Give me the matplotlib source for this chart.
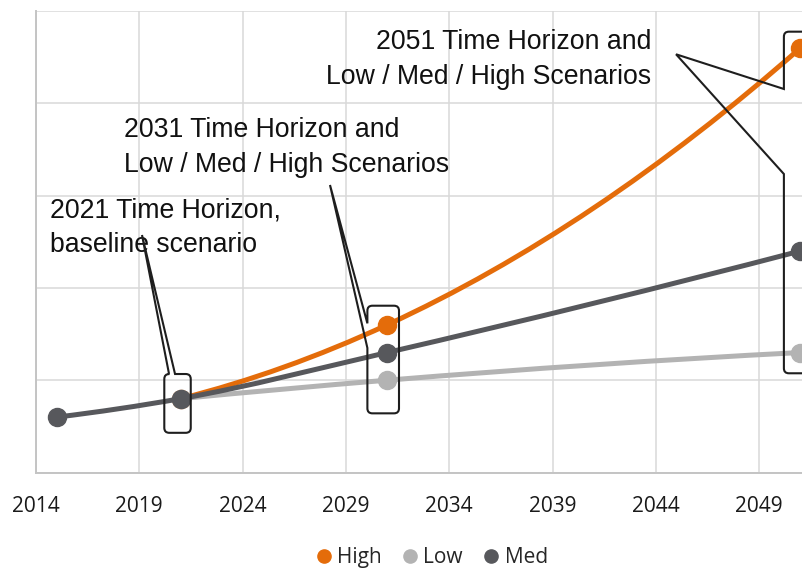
import numpy as np
import matplotlib.pyplot as plt
from matplotlib.path import Path
from matplotlib.patches import PathPatch
from matplotlib.lines import Line2D
from matplotlib.transforms import IdentityTransform

# scenario data: horizon years and index values (one grid step = 1 unit)
med_years = [2015, 2021, 2031, 2051]
med = [0.6, 0.8, 1.3, 2.4]
scen_years = [2021, 2031, 2051]
high = [0.8, 1.6, 4.6]
low = [0.8, 1.0, 1.3]
xticks = [2014, 2019, 2024, 2029, 2034, 2039, 2044, 2049]

series = [("High", scen_years, high, "#E46C0A"),
          ("Low", scen_years, low, "#B3B3B3"),
          ("Med", med_years, med, "#57585C")]

W, H = 803, 568
fig = plt.figure(figsize=(W / 100, H / 100), dpi=100)
ax = fig.add_axes([36 / W, (H - 472.5) / H, 40 * 20.66 / W, 461.5 / H])
ax.set_xlim(2014, 2054)
ax.set_ylim(0, 5)

ax.set_xticks(xticks)
ax.set_yticks(range(0, 6))
ax.set_yticklabels([])
ax.grid(True, color="#D9D9D9", lw=1.1)
ax.set_axisbelow(True)
for s in ["top", "right"]:
    ax.spines[s].set_visible(False)
for s in ["left", "bottom"]:
    ax.spines[s].set_color("#C4C4C4")
    ax.spines[s].set_linewidth(1.4)
ax.tick_params(axis="both", length=0)
ax.tick_params(axis="x", pad=17, labelsize=15, labelcolor="#1A1A1A")
for t in ax.get_xticklabels():
    t.set_fontfamily("Open Sans")


def smooth_path(xs, ys):
    # smoothed line: cubic hermite segments, slopes from 3-point parabolas
    x = np.asarray(xs, float)
    y = np.asarray(ys, float)
    h = np.diff(x)
    s = np.diff(y) / h
    m = np.zeros(len(x))
    if len(x) == 2:
        m[:] = s[0]
    else:
        m[1:-1] = (h[1:] * s[:-1] + h[:-1] * s[1:]) / (h[:-1] + h[1:])
        m[0] = s[0] - (s[1] - s[0]) * h[0] / (h[0] + h[1])
        m[-1] = s[-1] + (s[-1] - s[-2]) * h[-1] / (h[-1] + h[-2])
    verts = [(x[0], y[0])]
    codes = [Path.MOVETO]
    for i in range(len(x) - 1):
        d = h[i] / 3.0
        verts += [(x[i] + d, y[i] + d * m[i]),
                  (x[i + 1] - d, y[i + 1] - d * m[i + 1]),
                  (x[i + 1], y[i + 1])]
        codes += [Path.CURVE4] * 3
    return Path(verts, codes)


z = 3
for name, xs, vals, col in series:
    ax.add_patch(PathPatch(smooth_path(xs, vals), fc="none", ec=col,
                           lw=3.6, capstyle="round", zorder=z))
    ax.plot(xs, vals, "o", ms=13, color=col, mec=col, zorder=z + 0.5,
            clip_on=False)
    z += 1


def callout(box, side, base, tip, r=5):
    # rounded box with a wedge pointer, built in pixel space
    td = ax.transData
    x0, y0 = td.transform((box[0], box[2]))
    x1, y1 = td.transform((box[1], box[3]))
    L, R = min(x0, x1), max(x0, x1)
    B, T = min(y0, y1), max(y0, y1)
    tx, ty = td.transform(tip)
    verts = [(L, T - r)]
    codes = [Path.MOVETO]

    def corner(c, e):
        verts.extend([c, e])
        codes.extend([Path.CURVE3, Path.CURVE3])

    def line(pt):
        verts.append(pt)
        codes.append(Path.LINETO)

    corner((L, T), (L + r, T))
    if side == "top":
        a = td.transform((base[0], box[3]))[0]
        b = td.transform((base[1], box[3]))[0]
        line((a, T))
        line((tx, ty))
        line((b, T))
    line((R - r, T))
    corner((R, T), (R, T - r))
    line((R, B + r))
    corner((R, B), (R - r, B))
    line((L + r, B))
    corner((L, B), (L, B + r))
    if side == "left":
        a = td.transform((box[0], base[0]))[1]
        b = td.transform((box[0], base[1]))[1]
        line((L, min(a, b)))
        line((tx, ty))
        line((L, max(a, b)))
    line((L, T - r))
    fig.add_artist(PathPatch(Path(verts, codes), transform=IdentityTransform(),
                             fc="none", ec="#1E1E1E", lw=1.5,
                             joinstyle="miter", zorder=10))


callout((2020.21, 2021.49, 0.43, 1.067), "top", (2020.44, 2020.73),
        (2019.13, 2.573))
callout((2030.04, 2031.57, 0.641, 1.807), "left", (1.349, 1.616),
        (2028.23, 3.115))
callout((2050.2, 2051.8, 1.075, 4.776), "left", (3.234, 4.155),
        (2044.98, 4.531))

# y is the baseline of the second text line
tkw = dict(fontsize=19.2, family="Liberation Sans", color="#111111",
           linespacing=1.43, va="baseline", zorder=11)
ax.text(2014.68, 2.389, "2021 Time Horizon,\nbaseline scenario",
        ha="left", **tkw)
ax.text(2018.26, 3.256, "2031 Time Horizon and\nLow / Med / High Scenarios",
        ha="left", **tkw)
ax.text(2043.77, 4.209, "2051 Time Horizon and\nLow / Med / High Scenarios",
        ha="right", multialignment="right", **tkw)

handles = [Line2D([], [], ls="none", marker="o", ms=9.5, color=c)
           for _, _, _, c in series]
fig.legend(handles, [s[0] for s in series], loc="center",
           bbox_to_anchor=(432 / W, 1 - 557.5 / H), ncol=3, frameon=False,
           handlelength=0.7, handletextpad=0.3, columnspacing=1.0,
           prop={"family": "Open Sans", "size": 15}, labelcolor="#262626")

fig.savefig("out.png", dpi=100)
